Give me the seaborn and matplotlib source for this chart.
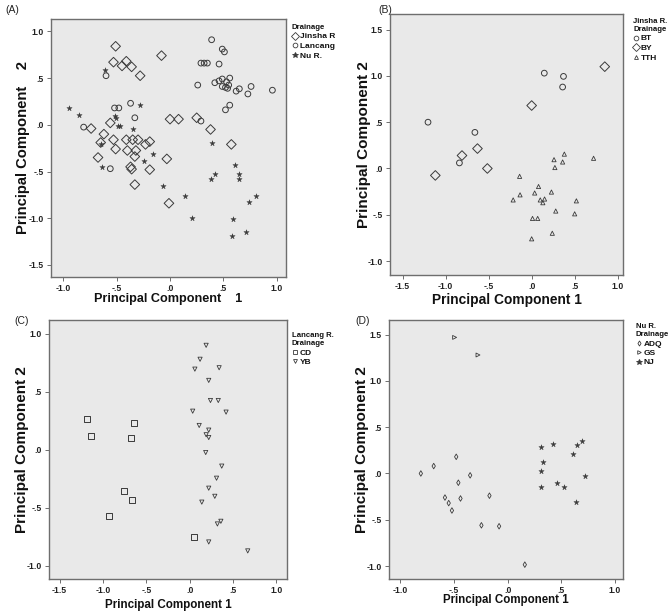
import numpy as np
import pandas as pd
import seaborn as sns
import matplotlib
matplotlib.use("Agg")
import matplotlib.pyplot as plt
from matplotlib.lines import Line2D
from matplotlib.transforms import Bbox, TransformedBbox

# ---------------- data ----------------
# Panel A: all drainages
A_jinsha_x = [-0.51, -0.53, -0.41, -0.45, -0.36, -0.28, -0.08, 0.0, 0.08, 0.25, 0.38, 0.575,
              -0.74, -0.62, -0.65, -0.56, -0.53, -0.51, -0.41, -0.40, -0.35, -0.30, -0.32, -0.33,
              -0.37, -0.36, -0.33, -0.675, -0.23, -0.19, -0.19, -0.03, -0.01]
A_jinsha_y = [0.84, 0.67, 0.68, 0.63, 0.62, 0.525, 0.74, 0.06, 0.06, 0.075, -0.05, -0.21,
              -0.04, -0.10, -0.19, 0.02, -0.16, -0.26, -0.16, -0.275, -0.16, -0.16, -0.275, -0.34,
              -0.45, -0.475, -0.64, -0.35, -0.21, -0.18, -0.48, -0.365, -0.84]
A_lancang_x = [0.39, 0.49, 0.51, 0.29, 0.32, 0.35, 0.46, 0.26, 0.42, 0.46, 0.49, 0.56, 0.53,
               0.49, 0.52, 0.55, 0.54, 0.62, 0.65, 0.73, 0.76, 0.96, 0.56, 0.52, -0.60, -0.52,
               -0.48, -0.37, -0.33, -0.81, -0.56, 0.29]
A_lancang_y = [0.91, 0.81, 0.78, 0.66, 0.66, 0.66, 0.65, 0.425, 0.45, 0.47, 0.49, 0.50, 0.46,
               0.41, 0.40, 0.425, 0.39, 0.36, 0.385, 0.33, 0.41, 0.37, 0.21, 0.16, 0.525, 0.18,
               0.18, 0.23, 0.075, -0.025, -0.47, 0.04]
A_nu_x = [-0.95, -0.85, -0.61, -0.28, -0.52, -0.51, -0.49, -0.47, -0.35, -0.65, -0.64, -0.24,
          -0.16, -0.07, 0.14, 0.21, 0.39, 0.38, 0.42, 0.61, 0.645, 0.65, 0.81, 0.74, 0.59, 0.58, 0.715]
A_nu_y = [0.175, 0.10, 0.59, 0.21, 0.09, 0.07, -0.015, -0.01, -0.04, -0.21, -0.45, -0.39,
          -0.31, -0.65, -0.76, -1.0, -0.2, -0.58, -0.53, -0.435, -0.53, -0.585, -0.76, -0.83,
          -1.01, -1.19, -1.15]

# Panel B: Jinsha R.
B_bt_x = [0.147, 0.37, 0.36, -1.205, -0.66, -0.84]
B_bt_y = [1.03, 0.995, 0.88, 0.50, 0.39, 0.06]
B_by_x = [0.85, 0.0, -0.63, -0.81, -0.515, -1.12]
B_by_y = [1.10, 0.68, 0.215, 0.14, 0.0, -0.075]
B_tth_x = [0.26, 0.27, 0.38, 0.36, 0.72, -0.14, 0.08, 0.035, -0.135, -0.215, 0.10, 0.15, 0.13,
           0.23, 0.52, 0.28, 0.50, 0.01, 0.07, 0.24, 0.0]
B_tth_y = [0.095, 0.01, 0.155, 0.07, 0.11, -0.085, -0.195, -0.265, -0.285, -0.34, -0.34, -0.33,
           -0.37, -0.255, -0.35, -0.46, -0.49, -0.54, -0.54, -0.70, -0.76]

# Panel C: Lancang R.
C_cd_x = [-1.19, -1.14, -0.646, -0.68, -0.76, -0.67, -0.935, 0.046]
C_cd_y = [0.265, 0.12, 0.235, 0.106, -0.356, -0.43, -0.566, -0.747]
C_yb_x = [0.19, 0.12, 0.06, 0.34, 0.22, 0.24, 0.33, 0.035, 0.42, 0.11, 0.22, 0.19, 0.22,
          0.185, 0.37, 0.31, 0.22, 0.29, 0.14, 0.36, 0.32, 0.22, 0.67]
C_yb_y = [0.90, 0.78, 0.695, 0.707, 0.598, 0.425, 0.425, 0.333, 0.325, 0.21, 0.17, 0.13, 0.106,
          -0.023, -0.14, -0.244, -0.33, -0.40, -0.45, -0.615, -0.638, -0.793, -0.87]

# Panel D: Nu R.
D_adq_x = [-0.81, -0.69, -0.48, -0.35, -0.46, -0.585, -0.55, -0.52, -0.44, -0.17, -0.245, -0.08, 0.16]
D_adq_y = [0.0, 0.08, 0.18, -0.02, -0.10, -0.26, -0.32, -0.40, -0.27, -0.24, -0.56, -0.57, -0.985]
D_gs_x = [-0.495, -0.277]
D_gs_y = [1.47, 1.28]
D_nj_x = [0.31, 0.42, 0.65, 0.69, 0.61, 0.33, 0.31, 0.725, 0.31, 0.46, 0.53, 0.64]
D_nj_y = [0.29, 0.32, 0.31, 0.35, 0.205, 0.12, 0.03, -0.03, -0.15, -0.105, -0.145, -0.31]

tick_x_A = [-1.0, -0.5, 0.0, 0.5, 1.0]
tick_y_A = [-1.5, -1.0, -0.5, 0.0, 0.5, 1.0]
tick_x_BC = [-1.5, -1.0, -0.5, 0.0, 0.5, 1.0]
tick_y_B = [-1.0, -0.5, 0.0, 0.5, 1.0, 1.5]
tick_y_C = [-1.0, -0.5, 0.0, 0.5, 1.0]
tick_x_D = [-1.0, -0.5, 0.0, 0.5, 1.0]
tick_y_D = [-1.0, -0.5, 0.0, 0.5, 1.0, 1.5]

# ---------------- style ----------------
sns.set_style("white")
plt.rcParams['font.family'] = ['Liberation Sans', 'DejaVu Sans']

W, H = 672, 613
fig = plt.figure(figsize=(W / 100, H / 100), dpi=100)

BG = "#e9e9e9"
EDGE = "#3a3a3a"
SPINE = "#6e6e6e"


def fmt(v):
    s = f"{v:.1f}"
    if s.startswith("0."):
        s = s[1:]
    elif s.startswith("-0."):
        s = "-" + s[2:]
    return s


def make_ax(left, right, top, bottom):
    ax = fig.add_axes([left / W, 1 - bottom / H, (right - left) / W, (bottom - top) / H])
    ax._px = (left, right, top, bottom)
    return ax


def style_ax(ax, xlim, ylim, xt, yt, xlabel, ylabel, xsize, ysize, xlab_top, ylab_right):
    left, right, top, bottom = ax._px
    ax.set_facecolor(BG)
    ax.set_xlim(*xlim)
    ax.set_ylim(*ylim)
    ax.set_xticks(xt)
    ax.set_yticks(yt)
    ax.set_xticklabels([fmt(v) for v in xt], fontsize=6.2, fontweight="bold", color="#222")
    ax.set_yticklabels([fmt(v) for v in yt], fontsize=6.2, fontweight="bold", color="#222")
    ax.tick_params(axis="both", direction="out", length=3, width=0.7, color=SPINE, pad=2,
                   bottom=True, left=True)
    for sp in ax.spines.values():
        sp.set_color(SPINE)
        sp.set_linewidth(1.0)
    ax.set_xlabel(xlabel, fontsize=xsize, fontweight="bold", color="#111")
    ax.set_ylabel(ylabel, fontsize=ysize, fontweight="bold", color="#111")
    ax.xaxis.set_label_coords(0.5, (bottom - xlab_top) / (bottom - top))
    ax.yaxis.set_label_coords((ylab_right - left) / (right - left), 0.5)


def scatter(ax, x, y, marker, s, filled=False, lw=0.7):
    df = pd.DataFrame({"x": x, "y": y})
    if filled:
        sns.scatterplot(data=df, x="x", y="y", ax=ax, marker=marker, s=s, color=EDGE,
                        edgecolor=EDGE, linewidth=0.3, legend=False, zorder=3)
    else:
        sns.scatterplot(data=df, x="x", y="y", ax=ax, marker=marker, s=s, facecolor="none",
                        edgecolor=EDGE, linewidth=lw, legend=False, zorder=3)


def legend(ax, x, y, title, entries):
    handles = []
    labels = []
    for lab, m, ms, filled in entries:
        handles.append(Line2D([], [], linestyle="none", marker=m, markersize=ms,
                              markerfacecolor=EDGE if filled else "none",
                              markeredgecolor=EDGE, markeredgewidth=0.6))
        labels.append(lab)
    leg = ax.legend(handles, labels, title=title, loc="upper left",
                    bbox_to_anchor=(x / W, 1 - y / H), bbox_transform=fig.transFigure,
                    frameon=False, fontsize=6.0, handlelength=0.6, handletextpad=0.35,
                    labelspacing=0.2, borderpad=0, borderaxespad=0,
                    title_fontproperties={"weight": "bold", "size": 5.6})
    for t in leg.get_texts():
        t.set_fontweight("bold")
        t.set_color("#111")
    leg.get_title().set_color("#111")
    leg._legend_box.align = "left"
    return leg


# ---------------- Panel A ----------------
axA = make_ax(51, 286, 19, 277)
scatter(axA, A_jinsha_x, A_jinsha_y, "D", 24)
scatter(axA, A_lancang_x, A_lancang_y, "o", 17)
scatter(axA, A_nu_x, A_nu_y, "*", 16, filled=True)
style_ax(axA, (-1.116, 1.0875), (-1.629, 1.132), tick_x_A, tick_y_A,
         "Principal Component    1", "Principal Component    2", 9.1, 10.6, 293, 30)
legA = legend(axA, 292, 24, "Drainage",
              [("Jinsha R.", "D", 3.6, False), ("Lancang R.", "o", 3.4, False), ("Nu R.", "*", 3.8, True)])
clip = TransformedBbox(Bbox([[0, 0], [336 / W, 1]]), fig.transFigure)
for t in legA.get_texts():
    t.set_clip_box(clip)
    t.set_clip_on(True)

# ---------------- Panel B ----------------
axB = make_ax(390, 623, 14, 275)
scatter(axB, B_bt_x, B_bt_y, "o", 17)
scatter(axB, B_by_x, B_by_y, "D", 24)
scatter(axB, B_tth_x, B_tth_y, "^", 9, lw=0.6)
style_ax(axB, (-1.647, 1.062), (-1.151, 1.669), tick_x_BC, tick_y_B,
         "Principal Component 1", "Principal Component 2", 9.9, 11.0, 293, 371)
legend(axB, 633, 18, "Jinsha R.\nDrainage",
       [("BT", "o", 3.4, False), ("BY", "D", 3.6, False), ("TTH", "^", 2.8, False)])

# ---------------- Panel C ----------------
axC = make_ax(49, 287, 320, 579)
scatter(axC, C_cd_x, C_cd_y, "s", 19)
scatter(axC, C_yb_x, C_yb_y, "v", 9, lw=0.6)
style_ax(axC, (-1.623, 1.123), (-1.112, 1.118), tick_x_BC, tick_y_C,
         "Principal Component 1", "Principal Component 2", 8.4, 11.0, 599, 29)
legend(axC, 292, 332, "Lancang R.\nDrainage",
       [("CD", "s", 3.4, False), ("YB", "v", 2.8, False)])

# ---------------- Panel D ----------------
axD = make_ax(389, 623, 320, 579)
scatter(axD, D_adq_x, D_adq_y, "d", 8, lw=0.6)
scatter(axD, D_gs_x, D_gs_y, ">", 8, lw=0.6)
scatter(axD, D_nj_x, D_nj_y, "*", 16, filled=True)
style_ax(axD, (-1.107, 1.076), (-1.14, 1.658), tick_x_D, tick_y_D,
         "Principal Component 1", "Principal Component 2", 8.3, 11.0, 594, 369)
legend(axD, 636, 323, "Nu R.\nDrainage",
       [("ADQ", "d", 2.6, False), ("GS", ">", 2.6, False), ("NJ", "*", 3.8, True)])

# panel letters
for lab, x, y in [("(A)", 5, 10), ("(B)", 378, 10), ("(C)", 14, 321), ("(D)", 355, 321)]:
    fig.text(x / W, 1 - y / H, lab, fontsize=7.5, color="#222", va="center", ha="left")

fig.savefig("out.png", dpi=100)
